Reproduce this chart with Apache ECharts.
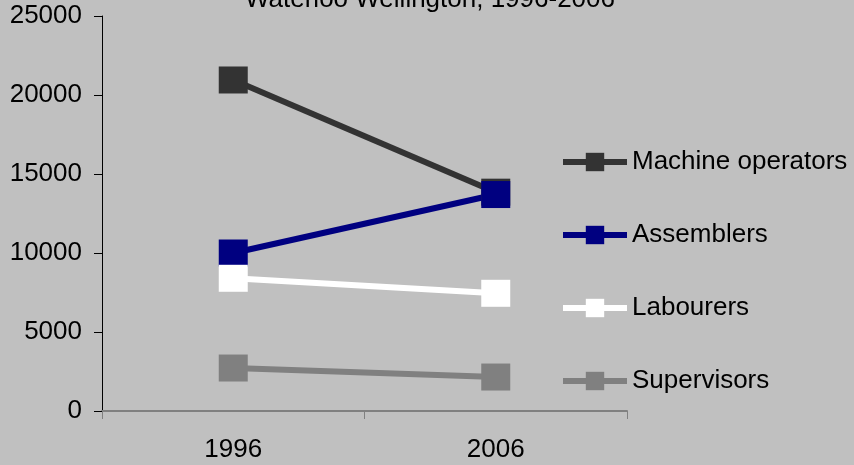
<!DOCTYPE html>
<html>
<head>
<meta charset="utf-8">
<script src="https://cdn.jsdelivr.net/npm/echarts@6/dist/echarts.min.js"></script>
<style>
  html, body { margin: 0; padding: 0; background: #c0c0c0; }
  #chart { width: 854px; height: 465px; }
</style>
</head>
<body>
<div id="chart"></div>
<script>
const years = ['1996', '2006'];
const machineOperators = [20950, 13850];
const assemblers = [10000, 13700];
const labourers = [8400, 7450];
const supervisors = [2720, 2150];

const font = 'Liberation Sans, Arial, sans-serif';

function lineSeries(name, data, color) {
  return {
    name: name,
    type: 'line',
    data: data,
    symbol: 'rect',
    symbolSize: [29, 27],
    lineStyle: {color: color, width: 6},
    itemStyle: {color: color, borderRadius: 3},
    emphasis: {disabled: true}
  };
}

const chart = echarts.init(document.getElementById('chart'));
chart.setOption({
  backgroundColor: '#c0c0c0',
  animation: false,
  title: {
    text: 'Waterloo Wellington, 1996-2006',
    left: 425,
    top: -18,
    textAlign: 'center',
    textStyle: {fontFamily: font, fontSize: 26, fontWeight: 'normal', color: '#000'}
  },
  legend: {
    orient: 'vertical',
    left: 555,
    top: 144,
    itemWidth: 64,
    itemHeight: 23,
    itemGap: 47,
    lineStyle: {width: 6},
    textStyle: {fontFamily: font, fontSize: 26, color: '#000'},
    data: ['Machine operators', 'Assemblers', 'Labourers', 'Supervisors']
  },
  grid: {left: 102, right: 227, top: 16, bottom: 54},
  xAxis: {
    type: 'category',
    data: years,
    axisLine: {lineStyle: {color: '#808080', width: 2}},
    axisTick: {show: true, length: 8, lineStyle: {color: '#808080', width: 1}},
    axisLabel: {fontFamily: font, fontSize: 26, color: '#000', margin: 26}
  },
  yAxis: {
    type: 'value',
    min: 0,
    max: 25000,
    interval: 5000,
    splitLine: {show: false},
    axisLine: {show: true, lineStyle: {color: '#000', width: 1}},
    axisTick: {show: true, length: 8, lineStyle: {color: '#000'}},
    axisLabel: {
      fontFamily: font, fontSize: 26, color: '#000', margin: 20,
      formatter: v => String(v)
    }
  },
  series: [
    lineSeries('Machine operators', machineOperators, '#333333'),
    lineSeries('Assemblers', assemblers, '#000080'),
    lineSeries('Labourers', labourers, '#ffffff'),
    lineSeries('Supervisors', supervisors, '#808080')
  ]
});
</script>
</body>
</html>
